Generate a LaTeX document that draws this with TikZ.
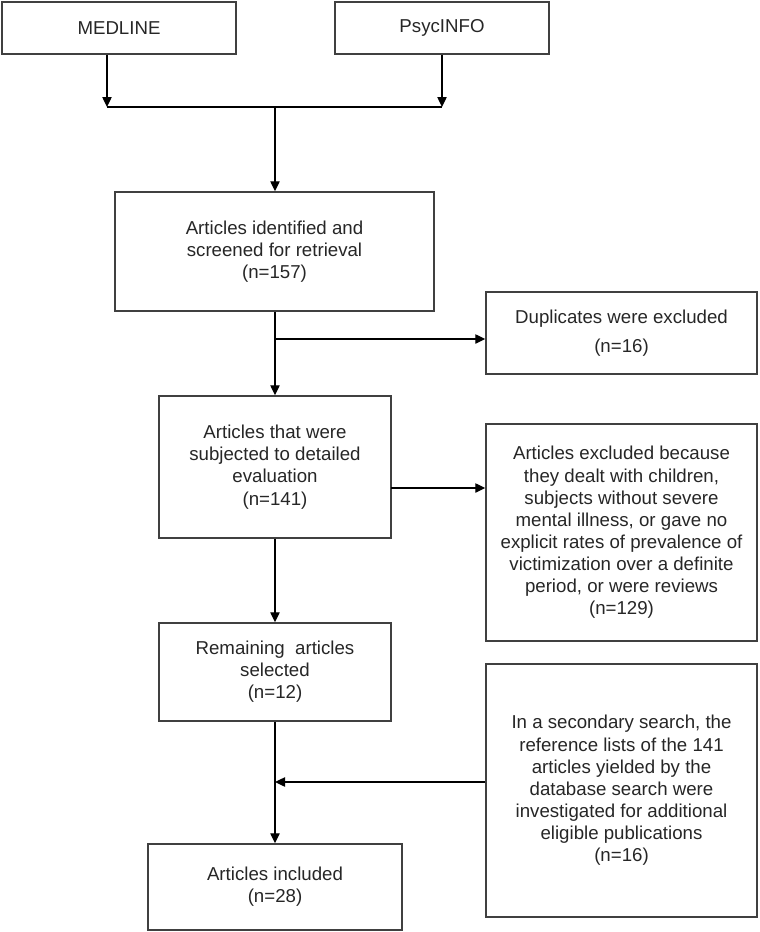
\documentclass[tikz,border=0pt]{standalone}
\usepackage{fontspec}
\setmainfont{Liberation Sans}
\usetikzlibrary{arrows.meta}
\tikzset{box/.style={draw=black!75, line width=1.1pt, align=center, inner sep=0pt,
    font=\fontsize{14}{16.6}\selectfont, text=black!85},
  arr/.style={-{Triangle[length=7.5pt,width=7pt]}, line width=1pt}}
\begin{document}
\begin{tikzpicture}[x=0.75pt,y=-0.75pt]
\useasboundingbox (0,0) rectangle (760,932);
%databases
\node[box, minimum width=175.5pt, minimum height=39pt] (medline) at (119,28) {MEDLINE};
\node[box, minimum width=160.5pt, minimum height=39pt] (psycinfo) at (442,28) {PsycINFO};
\coordinate (jl) at (107,107);
\coordinate (jr) at (442,107);
\coordinate (jm) at (275,107);
\draw [arr] (medline.south -| jl) -- (jl);
\draw [arr] (psycinfo.south) -- (jr);
\draw [line width=1pt] (jl) -- (jr);
%main column
\node[box, minimum width=239.25pt, minimum height=89.25pt] (ident) at (274.5,251.5)
  {Articles identified and\\screened for retrieval\\(n=157)};
\node[box, minimum width=174pt, minimum height=106.5pt] (subj) at (275,467)
  {Articles that were\\subjected to detailed\\evaluation\\(n=141)};
\node[box, minimum width=174pt, minimum height=73.5pt] (remain) at (275,672)
  {Remaining\ \ articles\\selected\\(n=12)};
\node[box, minimum width=190.5pt, minimum height=64.5pt] (incl) at (275,887)
  {Articles included\\(n=28)};
\draw [arr] (jm) -- (ident.north -| jm);
\draw [arr] (ident.south -| jm) -- (subj.north);
\draw [arr] (subj.south) -- (remain.north);
\draw [arr] (remain.south) -- (incl.north);
%side boxes
\node[box, minimum width=203.25pt, minimum height=61.5pt] (dupl) at (621.5,333)
  {Duplicates were excluded\\[5pt](n=16)};
\node[box, minimum width=203.25pt, minimum height=162.75pt] (excl) at (621.5,532.5)
  {Articles excluded because\\they dealt with children,\\subjects without severe\\mental illness, or gave no\\explicit rates of prevalence of\\victimization over a definite\\period, or were reviews\\(n=129)};
\node[box, minimum width=203.25pt, minimum height=189.75pt] (second) at (621.5,790.5)
  {In a secondary search, the\\reference lists of the 141\\articles yielded by the\\database search were\\investigated for additional\\eligible publications\\(n=16)};
\coordinate (b1) at (275,339);
\coordinate (b2) at (391,488);
\coordinate (b3) at (275,782);
\draw [arr] (b1) -- (b1 -| dupl.west);
\draw [arr] (b2) -- (b2 -| excl.west);
\draw [arr] (b3 -| second.west) -- (b3);
\end{tikzpicture}
\end{document}
